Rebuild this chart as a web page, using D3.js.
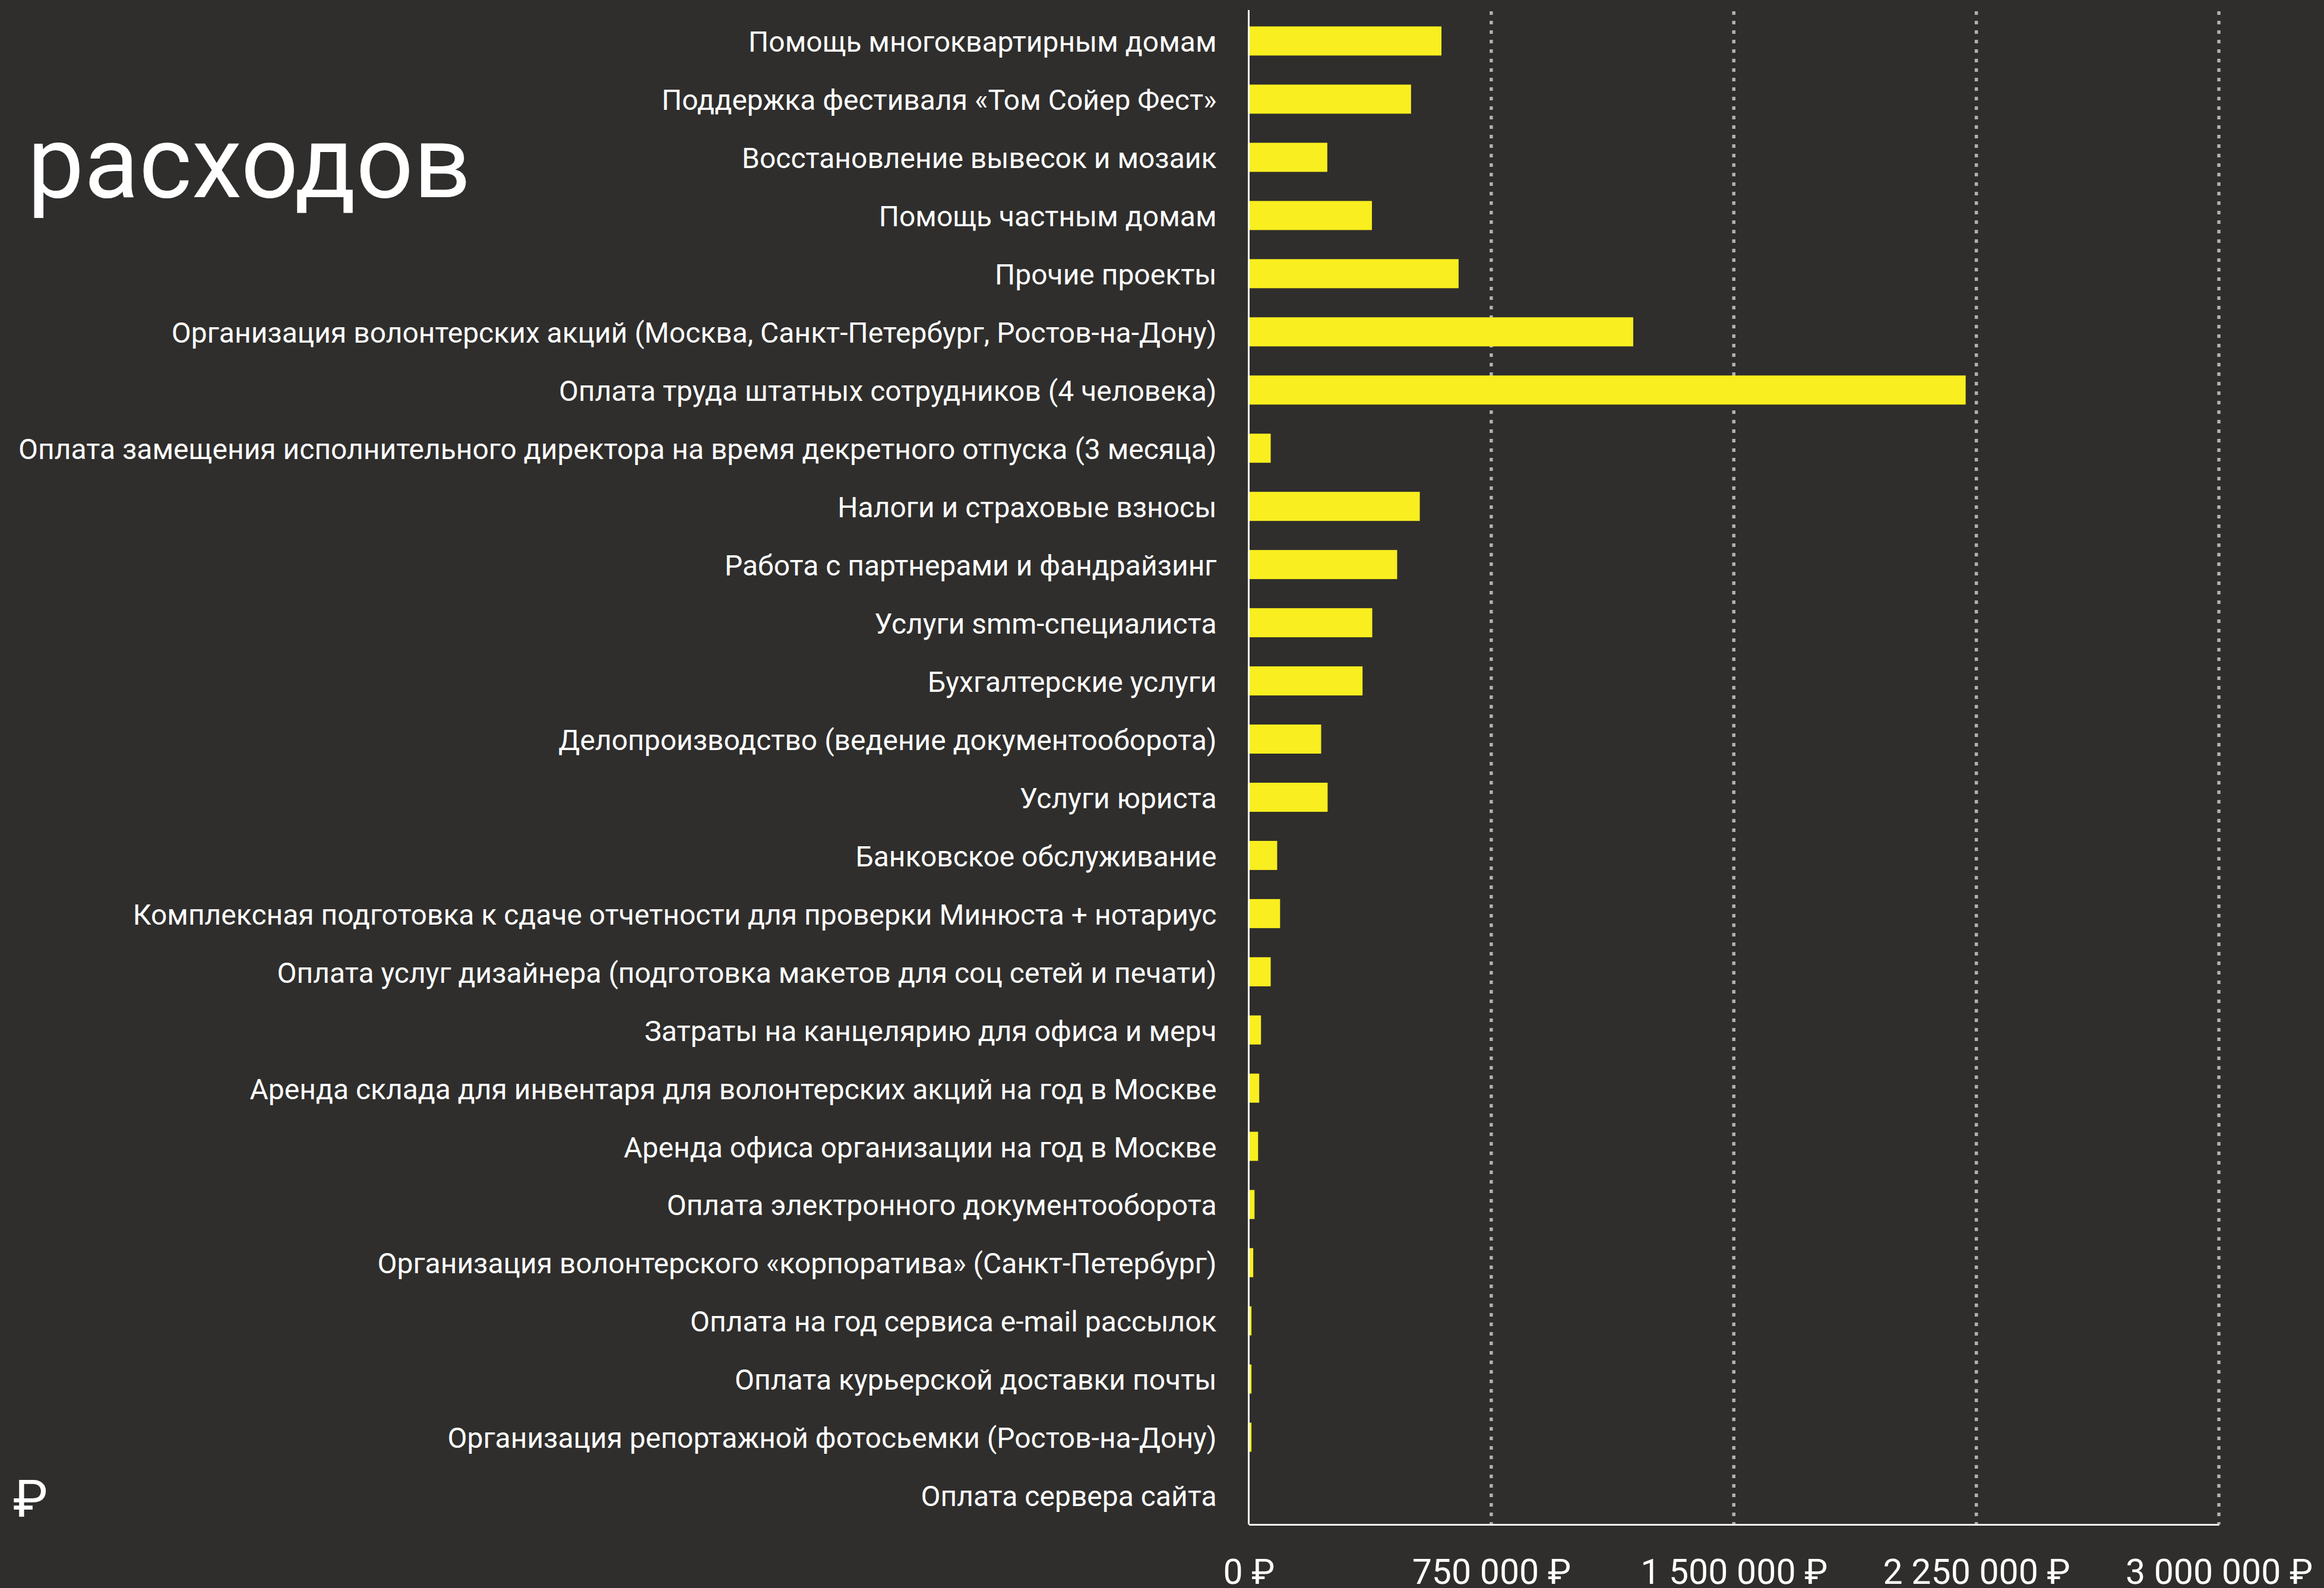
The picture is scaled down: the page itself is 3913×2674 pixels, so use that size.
<!DOCTYPE html>
<html>
<head>
<meta charset="utf-8">
<script src="https://cdn.jsdelivr.net/npm/d3@7"></script>
<style>
  html, body { margin: 0; padding: 0; background: #2f2e2c; }
  svg { display: block; }
</style>
</head>
<body>
<div id="vis"></div>
<script>
const WIDTH = 3913;
const HEIGHT = 2674;

// Статьи расходов (сверху вниз)
const CATEGORIES = [
    "Помощь многоквартирным домам",
    "Поддержка фестиваля «Том Сойер Фест»",
    "Восстановление вывесок и мозаик",
    "Помощь частным домам",
    "Прочие проекты",
    "Организация волонтерских акций (Москва, Санкт-Петербург, Ростов-на-Дону)",
    "Оплата труда штатных сотрудников (4 человека)",
    "Оплата замещения исполнительного директора на время декретного отпуска (3 месяца)",
    "Налоги и страховые взносы",
    "Работа с партнерами и фандрайзинг",
    "Услуги smm-специалиста",
    "Бухгалтерские услуги",
    "Делопроизводство (ведение документооборота)",
    "Услуги юриста",
    "Банковское обслуживание",
    "Комплексная подготовка к сдаче отчетности для проверки Минюста + нотариус",
    "Оплата услуг дизайнера (подготовка макетов для соц сетей и печати)",
    "Затраты на канцелярию для офиса и мерч",
    "Аренда склада для инвентаря для волонтерских акций на год в Москве",
    "Аренда офиса организации на год в Москве",
    "Оплата электронного документооборота",
    "Организация волонтерского «корпоратива» (Санкт-Петербург)",
    "Оплата на год сервиса e-mail рассылок",
    "Оплата курьерской доставки почты",
    "Организация репортажной фотосьемки (Ростов-на-Дону)",
    "Оплата сервера сайта"
];

// Суммы, ₽ (оценка по картинке)
const AMOUNTS = [
    596000, 502000, 243000, 381000, 649000, 1189000, 2217000, 68000,
    529000, 459000, 382000, 352000, 224000, 244000, 88000, 97000,
    68000, 38000, 32500, 29000, 18000, 14000, 8500, 8500, 8500, 2000
];

const X_TICKS = [0, 750000, 1500000, 2250000, 3000000];

const TITLE = "расходов";

const data = CATEGORIES.map((c, i) => ({ categoria: c, monto: AMOUNTS[i] }));

const FONT = "Roboto, 'Noto Sans', sans-serif";

const svg = d3.select("#vis").append("svg")
    .attr("width", WIDTH)
    .attr("height", HEIGHT);

svg.append("rect")
    .attr("width", WIDTH)
    .attr("height", HEIGHT)
    .attr("fill", "#2f2e2c");

// Escalas
const x = d3.scaleLinear()
    .domain([0, 3000000])
    .range([2102.5, 3736]);

const y = d3.scaleBand()
    .domain(CATEGORIES)
    .range([20, 2567])
    .paddingInner(0.5)
    .paddingOuter(0.25);

// Líneas de grilla punteadas
svg.append("g")
    .selectAll("line")
    .data(X_TICKS.slice(1))
    .join("line")
    .attr("x1", d => x(d))
    .attr("x2", d => x(d))
    .attr("y1", 19)
    .attr("y2", 2567)
    .attr("stroke", "#b0b0b0")
    .attr("stroke-width", 5.5)
    .attr("stroke-dasharray", "6,10");

// Barras
svg.append("g")
    .selectAll("rect")
    .data(data)
    .join("rect")
    .attr("x", x(0))
    .attr("y", d => y(d.categoria))
    .attr("width", d => x(d.monto) - x(0))
    .attr("height", y.bandwidth())
    .attr("fill", "#f9ee1f");

// Eje X
const formatRub = d => d3.format(",")(d).replace(/,/g, " ") + " ₽";

const ejeX = svg.append("g")
    .attr("transform", `translate(0,2567)`)
    .call(d3.axisBottom(x).tickValues(X_TICKS).tickFormat(formatRub).tickSize(0).tickPadding(58));

ejeX.select(".domain").attr("stroke", "#ffffff").attr("stroke-width", 3);
ejeX.selectAll("text")
    .attr("fill", "#ffffff")
    .attr("font-family", FONT)
    .attr("font-size", "59px");

// Eje Y
const ejeY = svg.append("g")
    .attr("transform", `translate(${x(0)},0)`)
    .call(d3.axisLeft(y).tickSize(0).tickPadding(54));

ejeY.select(".domain").attr("stroke", "#ffffff").attr("stroke-width", 3)
    .attr("d", "M0,17V2567");
ejeY.selectAll("text")
    .attr("fill", "#ffffff")
    .attr("font-family", FONT)
    .attr("font-size", "48px")
    .attr("dy", "0.38em");

// Título (recortado)
svg.append("text")
    .attr("x", 46)
    .attr("y", 332)
    .attr("fill", "#ffffff")
    .attr("font-family", FONT)
    .attr("font-size", "170px")
    .text(TITLE);

svg.append("text")
    .attr("x", 22)
    .attr("y", 2554)
    .attr("fill", "#ffffff")
    .attr("font-family", FONT)
    .attr("font-size", "88px")
    .text("₽");
</script>
</body>
</html>
